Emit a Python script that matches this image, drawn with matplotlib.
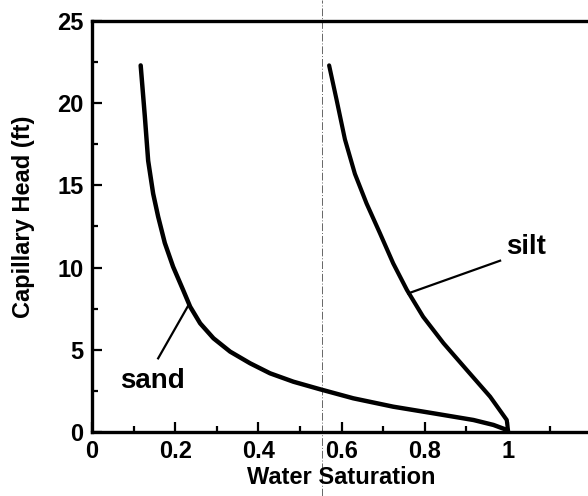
import numpy as np
import matplotlib
matplotlib.use("Agg")
import matplotlib.pyplot as plt
from matplotlib.lines import Line2D

plt.rcParams["font.family"] = ["Liberation Sans", "DejaVu Sans"]

# values
sand_sat = [0.117, 0.127, 0.135, 0.147, 0.159, 0.175, 0.195, 0.219, 0.236, 0.260,
            0.292, 0.332, 0.380, 0.428, 0.484, 0.548, 0.628, 0.724, 0.820, 0.917,
            0.965, 1.0]
sand_head = [22.3, 19.2, 16.5, 14.5, 13.1, 11.5, 10.05, 8.64, 7.62, 6.61,
             5.70, 4.89, 4.18, 3.57, 3.06, 2.60, 2.05, 1.54, 1.14, 0.73,
             0.43, 0.1]

silt_sat = [0.570, 0.588, 0.608, 0.632, 0.660, 0.692, 0.724, 0.757, 0.796,
            0.845, 0.901, 0.957, 0.997, 1.0]
silt_head = [22.3, 20.2, 17.8, 15.7, 13.9, 12.1, 10.26, 8.64, 7.01,
             5.40, 3.77, 2.15, 0.73, 0.1]

x_major = [0, 0.2, 0.4, 0.6, 0.8, 1.0]
x_labels = ["0", "0.2", "0.4", "0.6", "0.8", "1"]
y_major = [0, 5, 10, 15, 20, 25]

fig = plt.figure(figsize=(5.88, 4.96), dpi=100)
ax = fig.add_axes([92 / 588, 64 / 496, 1.2 * 416 / 588, 411 / 496])

ax.plot(sand_sat, sand_head, color="black", lw=3.2, solid_capstyle="round",
        solid_joinstyle="round")
ax.plot(silt_sat, silt_head, color="black", lw=3.0, solid_capstyle="round",
        solid_joinstyle="round")

# leader lines + labels
ax.plot([0.159, 0.232], [4.48, 7.72], color="black", lw=1.6)
ax.plot([0.760, 0.981], [8.43, 10.42], color="black", lw=1.6)
ax.text(0.067, 2.68, "sand", fontsize=20, fontweight="bold", va="baseline", ha="left")
ax.text(0.995, 10.8, "silt", fontsize=20, fontweight="bold", va="baseline", ha="left")

ax.set_xlim(0, 1.2)
ax.set_ylim(0, 25)
ax.set_xticks(x_major)
ax.set_xticklabels(x_labels)
ax.set_xticks(np.arange(0.1, 1.15, 0.2), minor=True)
ax.set_yticks(y_major)
ax.set_yticks(np.arange(2.5, 25, 5), minor=True)

ax.tick_params(which="both", direction="in", width=1.6, top=False, right=False)
ax.tick_params(which="major", length=7, labelsize=17, pad=6)
ax.tick_params(which="minor", length=4)
for lab in ax.get_xticklabels() + ax.get_yticklabels():
    lab.set_fontweight("bold")

for s in ["left", "bottom", "top"]:
    ax.spines[s].set_linewidth(2.4)
ax.spines["right"].set_visible(False)

ax.set_xlabel("Water Saturation", fontsize=17, fontweight="bold", labelpad=2)
ax.set_ylabel("Capillary Head (ft)", fontsize=17, fontweight="bold", labelpad=6)
ax.yaxis.set_label_coords(-0.115, 0.523)

# faint dash-dot scan line
fig.add_artist(Line2D([322 / 588, 322 / 588], [0, 1], transform=fig.transFigure,
                      color="black", lw=0.7, alpha=0.6, ls=(0, (8, 2, 1, 2))))

fig.savefig("out.png", dpi=100)
